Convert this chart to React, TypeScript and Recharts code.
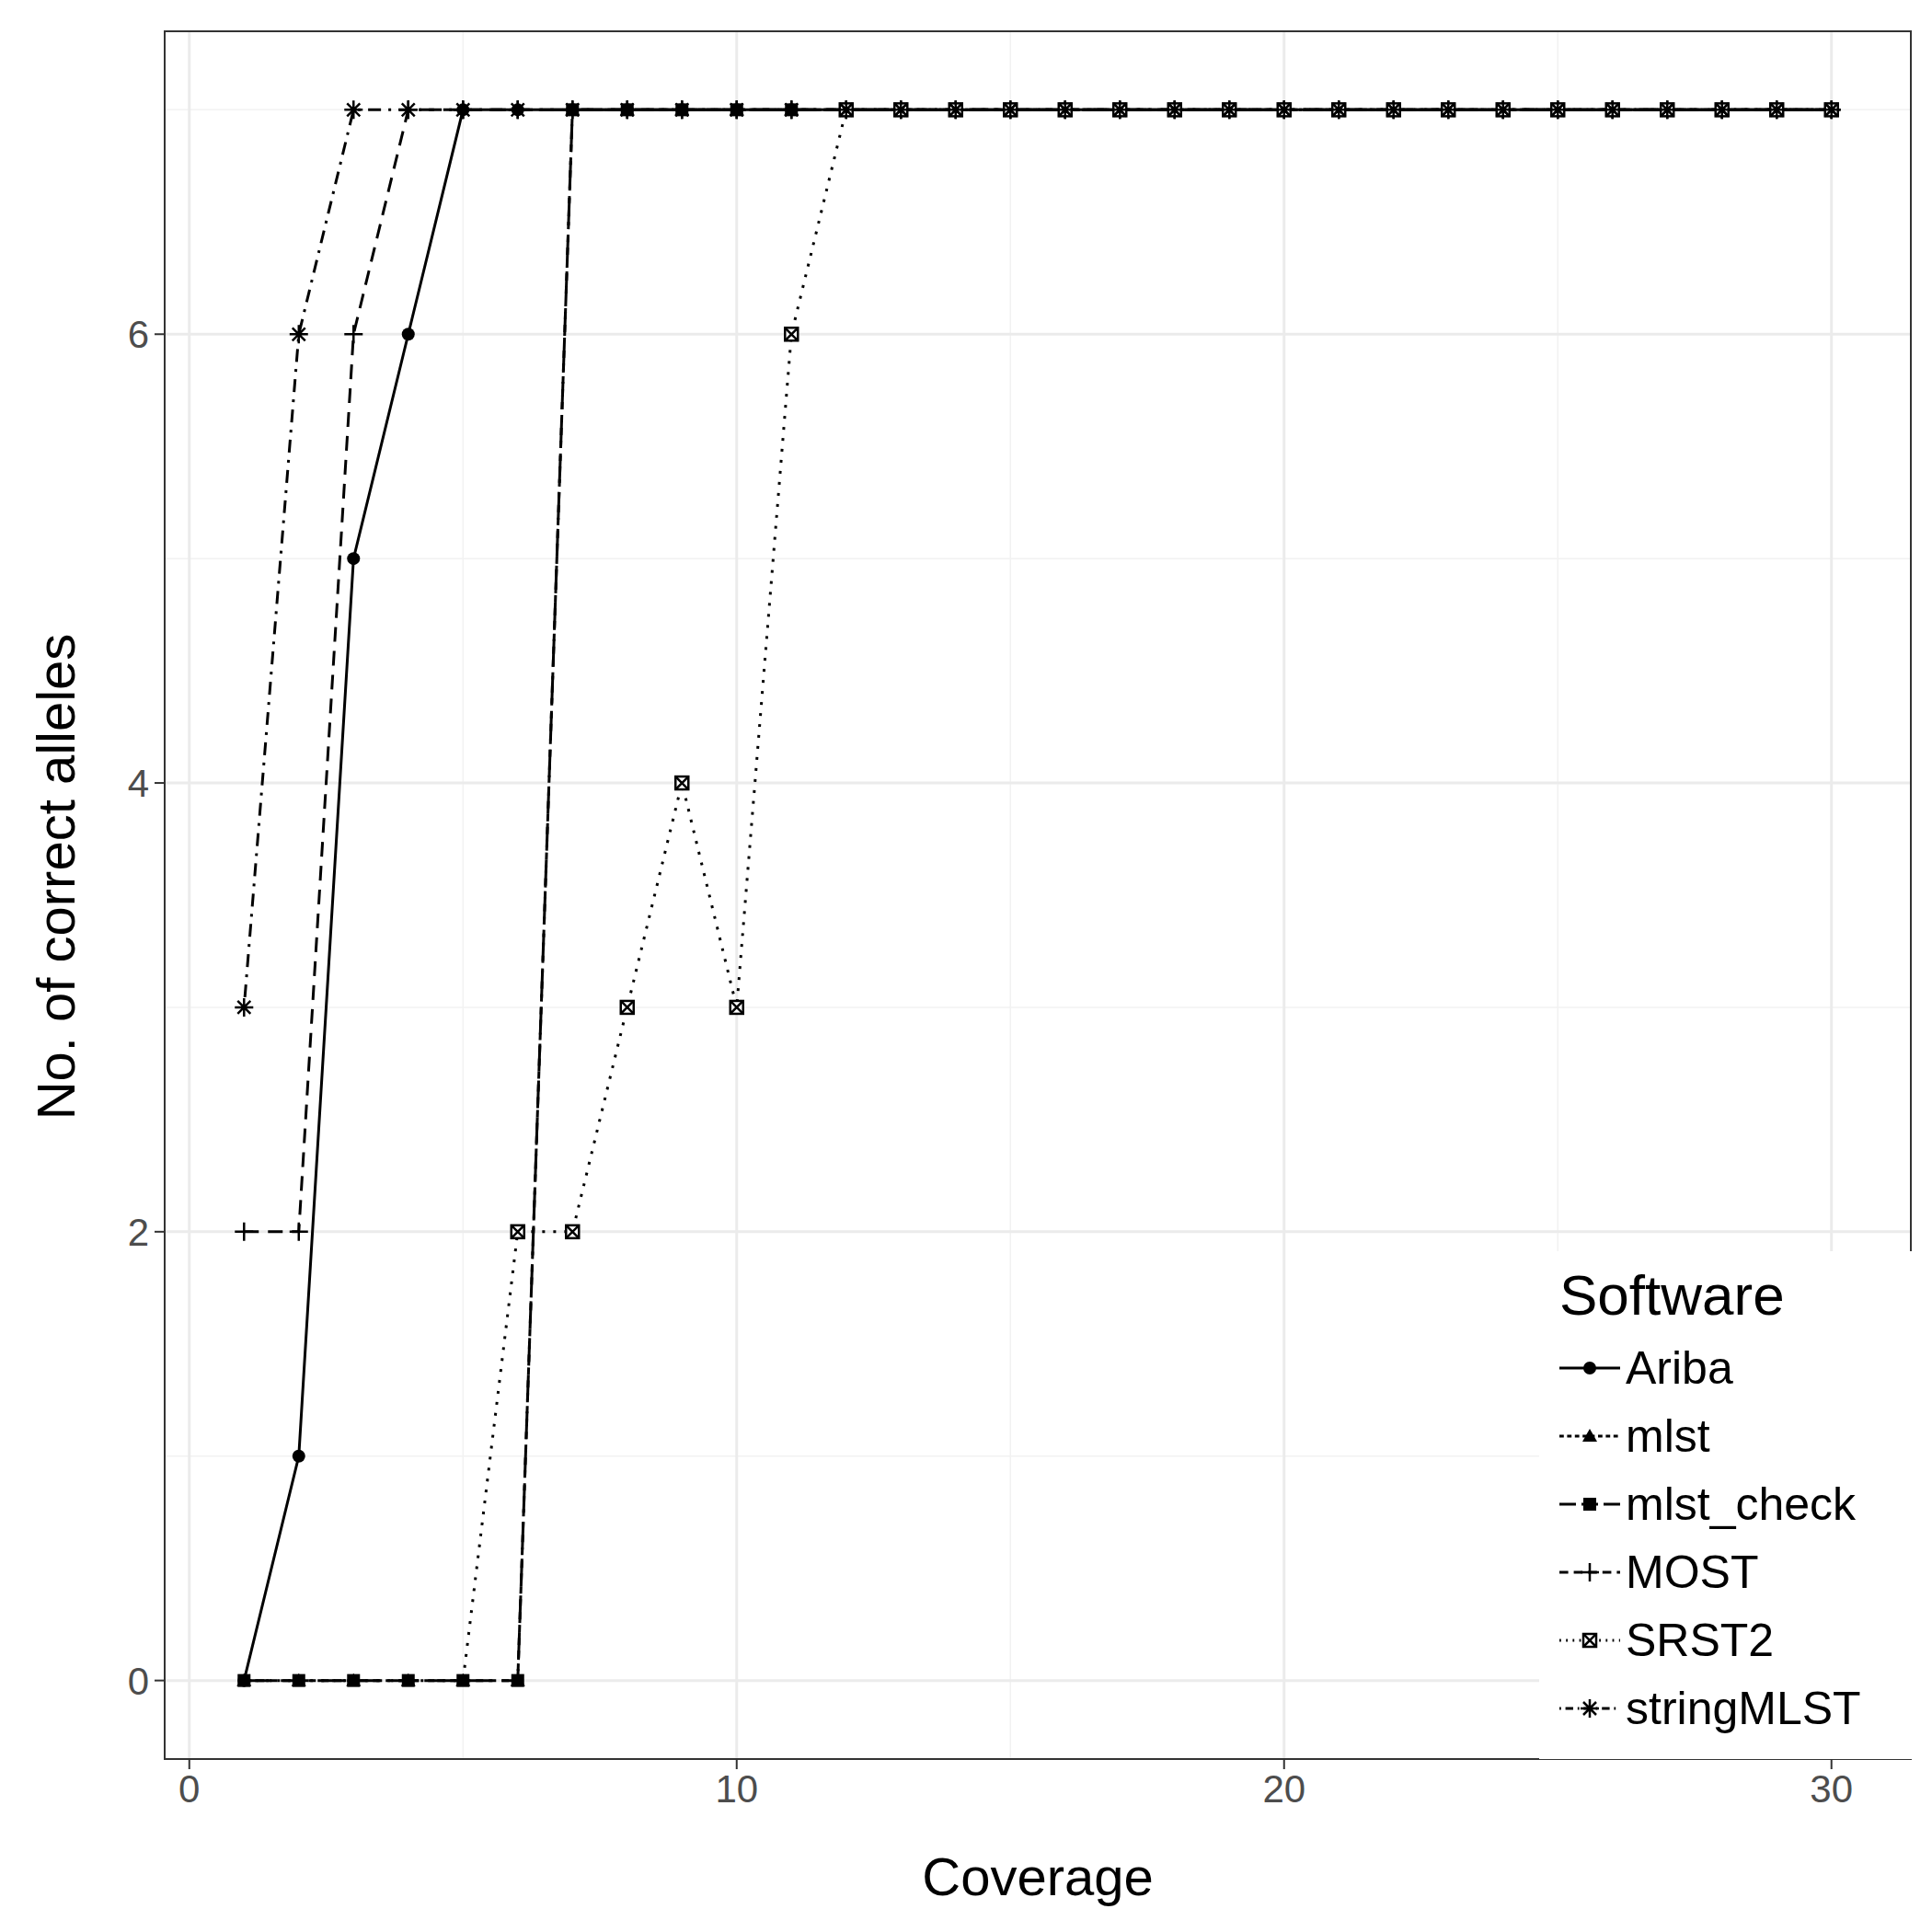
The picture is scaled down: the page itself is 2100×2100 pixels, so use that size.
import { LineChart, Line, XAxis, YAxis, CartesianGrid, ReferenceArea } from "recharts";

const coverage = Array.from({ length: 30 }, (_, i) => i + 1);
const ariba = [0, 1, 5, 6, 7, 7, 7, 7, 7, 7, 7, 7, 7, 7, 7, 7, 7, 7, 7, 7, 7, 7, 7, 7, 7, 7, 7, 7, 7, 7];
const mlst = [0, 0, 0, 0, 0, 0, 7, 7, 7, 7, 7, 7, 7, 7, 7, 7, 7, 7, 7, 7, 7, 7, 7, 7, 7, 7, 7, 7, 7, 7];
const mlstCheck = [0, 0, 0, 0, 0, 0, 7, 7, 7, 7, 7, 7, 7, 7, 7, 7, 7, 7, 7, 7, 7, 7, 7, 7, 7, 7, 7, 7, 7, 7];
const most = [2, 2, 6, 7, 7, 7, 7, 7, 7, 7, 7, 7, 7, 7, 7, 7, 7, 7, 7, 7, 7, 7, 7, 7, 7, 7, 7, 7, 7, 7];
const srst2 = [0, 0, 0, 0, 0, 2, 2, 3, 4, 3, 6, 7, 7, 7, 7, 7, 7, 7, 7, 7, 7, 7, 7, 7, 7, 7, 7, 7, 7, 7];
const stringMlst = [3, 6, 7, 7, 7, 7, 7, 7, 7, 7, 7, 7, 7, 7, 7, 7, 7, 7, 7, 7, 7, 7, 7, 7, 7, 7, 7, 7, 7, 7];
const xTicks = [0, 10, 20, 30];
const yTicks = [0, 2, 4, 6];

const data = coverage.map((c, i) => ({
  c, ariba: ariba[i], mlst: mlst[i], mlstCheck: mlstCheck[i], most: most[i], srst2: srst2[i], stringMlst: stringMlst[i],
}));

const S = 7;
function Mark({ kind, cx, cy }: { kind: string; cx: number; cy: number }) {
  if (kind === "circle") return <circle cx={cx} cy={cy} r={S} fill="#000" />;
  if (kind === "tri") return <polygon points={`${cx},${cy - S - 1} ${cx - S - 1},${cy + S - 1} ${cx + S + 1},${cy + S - 1}`} fill="#000" />;
  if (kind === "square") return <rect x={cx - S} y={cy - S} width={2 * S} height={2 * S} fill="#000" />;
  if (kind === "plus") return <path d={`M${cx - 10},${cy}H${cx + 10}M${cx},${cy - 10}V${cy + 10}`} stroke="#000" strokeWidth={2.5} />;
  if (kind === "boxx") return <g stroke="#000" strokeWidth={2.5} fill="#fff"><rect x={cx - S} y={cy - S} width={2 * S} height={2 * S} /><path d={`M${cx - S},${cy - S}L${cx + S},${cy + S}M${cx + S},${cy - S}L${cx - S},${cy + S}`} /></g>;
  return <path d={`M${cx - 10},${cy}H${cx + 10}M${cx},${cy - 10}V${cy + 10}M${cx - 7},${cy - 7}L${cx + 7},${cy + 7}M${cx + 7},${cy - 7}L${cx - 7},${cy + 7}`} stroke="#000" strokeWidth={2.5} />;
}

const series = [
  { key: "ariba", name: "Ariba", dash: "", kind: "circle" },
  { key: "mlst", name: "mlst", dash: "8 6", kind: "tri" },
  { key: "mlstCheck", name: "mlst_check", dash: "30 10", kind: "square" },
  { key: "most", name: "MOST", dash: "16 10", kind: "plus" },
  { key: "srst2", name: "SRST2", dash: "3 9", kind: "boxx" },
  { key: "stringMlst", name: "stringMLST", dash: "3 8 14 8", kind: "star" },
];
const drawOrder = ["ariba", "mlstCheck", "mlst", "most", "srst2", "stringMlst"];

const font = "Liberation Sans, Arial, sans-serif";

export default function App() {
  return (
    <div style={{ position: "absolute", left: 0, top: 0, width: 2100, height: 2100, background: "#fff", fontFamily: font }}>
      <LineChart width={2100} height={2100} data={data} margin={{ top: 34, right: 23, bottom: 0, left: 0 }}>
        <CartesianGrid stroke="#f2f2f2" strokeWidth={1.5} verticalValues={[5, 15, 25]} horizontalValues={[1, 3, 5, 7]} />
        <CartesianGrid stroke="#ebebeb" strokeWidth={3} verticalValues={xTicks} horizontalValues={yTicks} />
        <XAxis dataKey="c" type="number" domain={[-0.45, 31.45]} ticks={xTicks} height={188} axisLine={false}
          tickLine={{ stroke: "#333", strokeWidth: 2 }} tickSize={11} tickMargin={6}
          tick={{ fill: "#4d4d4d", fontSize: 42, fontFamily: font }}
          label={{ value: "Coverage", position: "insideBottom", offset: 40, fontSize: 58, fill: "#000", fontFamily: font }} />
        <YAxis type="number" domain={[-0.35, 7.35]} ticks={yTicks} width={179} axisLine={false}
          tickLine={{ stroke: "#333", strokeWidth: 2 }} tickSize={11} tickMargin={6}
          tick={{ fill: "#4d4d4d", fontSize: 42, fontFamily: font }}
          label={{ value: "No. of correct alleles", angle: -90, position: "insideLeft", offset: 60, dy: -20, fontSize: 58, fill: "#000", fontFamily: font, style: { textAnchor: "middle" } }} />
        {drawOrder.map((k) => {
          const s = series.find((q) => q.key === k)!;
          return (
            <Line key={s.key} dataKey={s.key} name={s.name} stroke="#000" strokeWidth={3} strokeDasharray={s.dash || undefined}
              isAnimationActive={false} activeDot={false}
              dot={(p: any) => (s.key === "srst2" && p.value === 0 ? <g key={p.index} /> : <Mark key={p.index} kind={s.kind} cx={p.cx} cy={p.cy} />)} />
          );
        })}
        <ReferenceArea x1={-0.45} x2={31.45} y1={-0.35} y2={7.35} fill="none" stroke="#333" strokeWidth={2} ifOverflow="visible" />
      </LineChart>
      <div style={{ position: "absolute", left: 1673, top: 1360, width: 405, height: 552, background: "#fff" }}>
        <div style={{ position: "absolute", left: 22, top: 12, fontSize: 62 }}>Software</div>
        {series.map((s, i) => (
          <div key={s.key} style={{ position: "absolute", left: 22, top: 90 + i * 74, height: 74, display: "flex", alignItems: "center" }}>
            <svg width={66} height={40}>
              <line x1={0} x2={66} y1={20} y2={20} stroke="#000" strokeWidth={3} strokeDasharray={s.dash ? s.dash.split(" ").map((v) => +v * 0.6).join(" ") : undefined} />
              <Mark kind={s.kind} cx={33} cy={20} />
            </svg>
            <span style={{ fontSize: 50, marginLeft: 6 }}>{s.name}</span>
          </div>
        ))}
      </div>
    </div>
  );
}
